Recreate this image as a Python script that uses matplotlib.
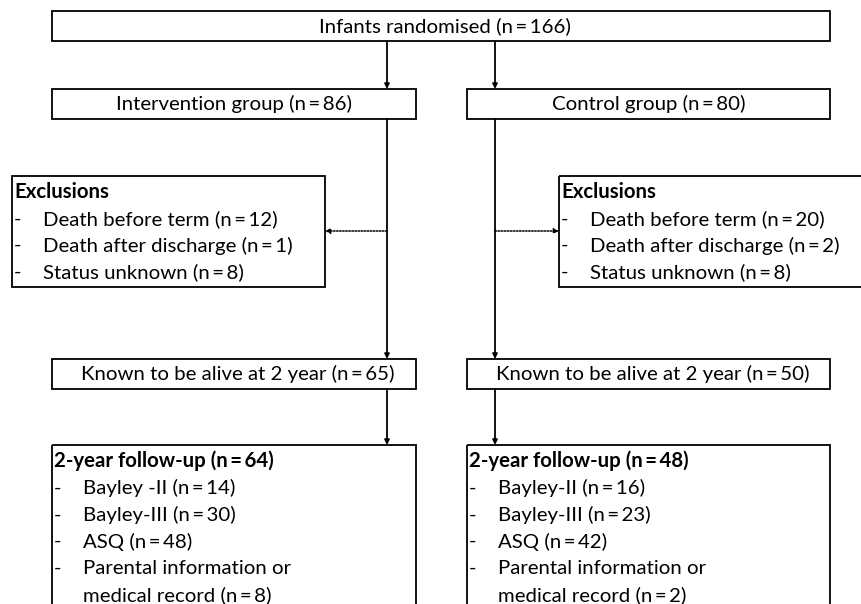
import matplotlib.pyplot as plt
from matplotlib.patches import Rectangle, FancyArrowPatch

plt.rcParams['font.family'] = ['Lato', 'DejaVu Sans']

# counts shown in the flowchart
n_randomised = 166
group_names = ['Intervention group', 'Control group']
group_n = [86, 80]
excl_labels = ['Death before term', 'Death after discharge', 'Status unknown']
excl_n = [[12, 1, 8], [20, 2, 8]]
alive_n = [65, 50]
followup_n = [64, 48]
followup_labels = [['Bayley -II', 'Bayley-III', 'ASQ', 'Parental information or', 'medical record'],
                   ['Bayley-II', 'Bayley-III', 'ASQ', 'Parental information or', 'medical record']]
followup_counts = [[14, 30, 48, None, 8], [16, 23, 42, None, 2]]

W, H = 861, 604
fig = plt.figure(figsize=(W / 100, H / 100), dpi=100)
ax = fig.add_axes([0, 0, 1, 1])
ax.set_xlim(0, W)
ax.set_ylim(H, 0)
ax.axis('off')

FS = 14.7
LW = 1.3


def nstr(n):
    return f'(n\u2009=\u2009{n})'


def box(x0, y0, x1, y1):
    ax.add_patch(Rectangle((x0, y0), x1 - x0, y1 - y0, fill=False, lw=LW, ec='black'))


def arrow(x0, y0, x1, y1, dotted=False):
    ax.add_patch(FancyArrowPatch((x0, y0), (x1, y1), arrowstyle='-|>', mutation_scale=7,
                                 lw=1.1 if dotted else LW,
                                 ls=(0, (1, 1)) if dotted else '-', color='black',
                                 shrinkA=0, shrinkB=0))


# top box
box(52, 11, 830, 41)
ax.text(445, 26, f'Infants randomised {nstr(n_randomised)}', ha='center', va='center', fontsize=FS)

main_x = [387, 495]
grp_box = [(52, 416), (467, 830)]
excl_box = [(12, 325), (559, 875)]

for i in range(2):
    gx0, gx1 = grp_box[i]
    mx = main_x[i]
    arrow(mx, 41, mx, 89)
    box(gx0, 89, gx1, 119)
    ax.text((gx0 + gx1) / 2, 104, f'{group_names[i]} {nstr(group_n[i])}',
            ha='center', va='center', fontsize=FS)

    # line down to "known alive"
    arrow(mx, 119, mx, 359)

    # exclusions
    ex0, ex1 = excl_box[i]
    box(ex0, 176, ex1, 287)
    if i == 0:
        arrow(mx, 231, ex1, 231, dotted=True)
    else:
        arrow(mx, 231, ex0, 231, dotted=True)
    ax.text(ex0 + 2, 192, 'Exclusions', ha='left', va='center', fontsize=FS, fontweight='bold')
    for j, (lab, n) in enumerate(zip(excl_labels, excl_n[i])):
        y = 219 + j * 26.5
        ax.text(ex0 + 2, y, '-', ha='left', va='center', fontsize=FS)
        ax.text(ex0 + 31, y, f'{lab} {nstr(n)}', ha='left', va='center', fontsize=FS)

    # known alive
    box(gx0, 359, gx1, 389)
    ax.text((gx0 + gx1) / 2 + 4, 374, f'Known to be alive at 2 year {nstr(alive_n[i])}',
            ha='center', va='center', fontsize=FS)
    arrow(mx, 389, mx, 445)

    # follow-up
    box(gx0, 445, gx1, 640)
    ax.text(gx0 + 2, 461, f'2-year follow-up {nstr(followup_n[i])}', ha='left', va='center',
            fontsize=FS, fontweight='bold')
    for j, (lab, n) in enumerate(zip(followup_labels[i], followup_counts[i])):
        y = 488 + j * 26.8
        if lab != 'medical record':
            ax.text(gx0 + 2, y, '-', ha='left', va='center', fontsize=FS)
        txt = lab if n is None else f'{lab} {nstr(n)}'
        ax.text(gx0 + 31, y, txt, ha='left', va='center', fontsize=FS)

fig.savefig('out.png', dpi=100)
